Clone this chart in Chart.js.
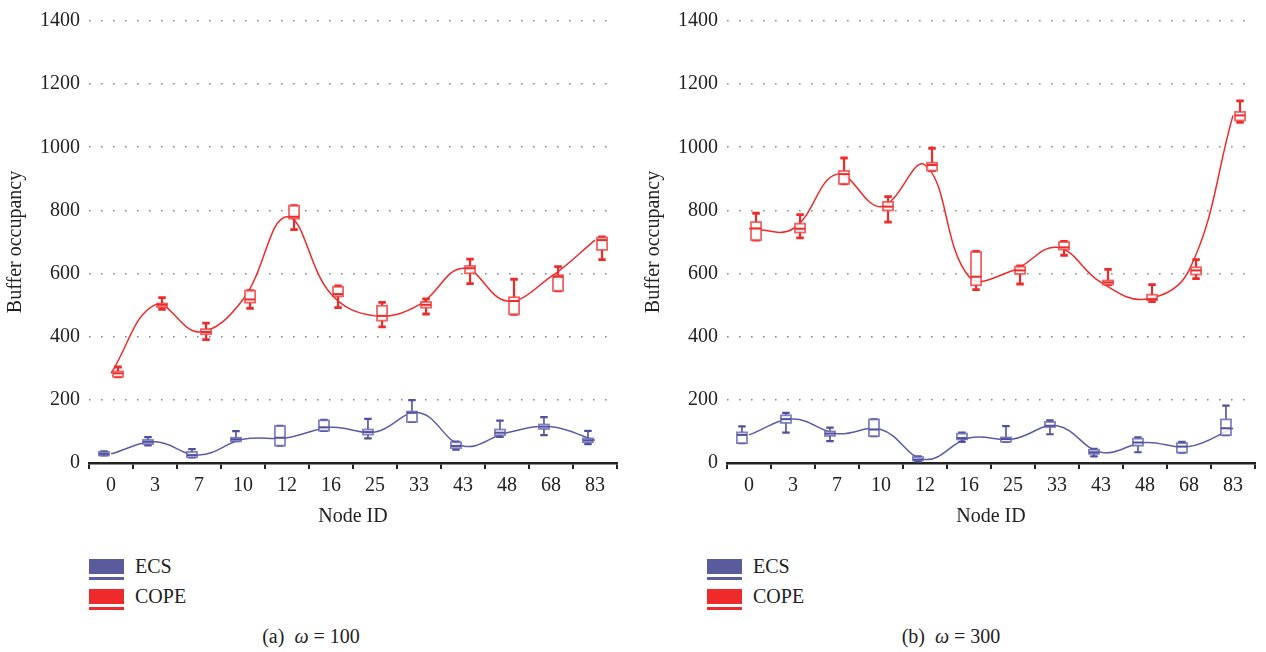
<!DOCTYPE html>
<html>
<head>
<meta charset="utf-8">
<script src="https://cdn.jsdelivr.net/npm/chart.js@4.4.0/dist/chart.umd.min.js"></script>
<style>
  body { margin: 0; background: #fff; width: 1266px; height: 652px; overflow: hidden; position: relative;
         font-family: "Liberation Serif", "DejaVu Serif", serif; color: #222; }
  canvas { position: absolute; top: 0; }
  .lbox { position: absolute; width: 35px; height: 15px; }
  .lline { position: absolute; width: 35px; height: 2.5px; }
  .ltext { position: absolute; height: 24px; line-height: 24px; font-size: 20px; }
  .cap { position: absolute; width: 240px; text-align: center; height: 24px; line-height: 24px; font-size: 20px; }
</style>
</head>
<body>
<canvas id="chartA" width="630" height="540" style="left:0px"></canvas>
<canvas id="chartB" width="630" height="540" style="left:638px"></canvas>

<div class="lbox" style="left:89px; top:559px; background:#5a5b9d"></div>
<div class="lline" style="left:89px; top:577px; background:#5b5ca8"></div>
<div class="ltext" style="left:135px; top:554px">ECS</div>
<div class="lbox" style="left:89px; top:589px; background:#ee2a2a"></div>
<div class="lline" style="left:89px; top:607px; background:#ee2a2a"></div>
<div class="ltext" style="left:135px; top:584px">COPE</div>
<div class="cap" style="left:191px; top:624px">(a)&nbsp;&nbsp;<i>ω</i> = 100</div>

<div class="lbox" style="left:707px; top:559px; background:#5a5b9d"></div>
<div class="lline" style="left:707px; top:577px; background:#5b5ca8"></div>
<div class="ltext" style="left:753px; top:554px">ECS</div>
<div class="lbox" style="left:707px; top:589px; background:#ee2a2a"></div>
<div class="lline" style="left:707px; top:607px; background:#ee2a2a"></div>
<div class="ltext" style="left:753px; top:584px">COPE</div>
<div class="cap" style="left:831px; top:624px">(b)&nbsp;&nbsp;<i>ω</i> = 300</div>

<script>
// node ids on the x axis
const nodeIds = ['0', '3', '7', '10', '12', '16', '25', '33', '43', '48', '68', '83'];
const yTicks = [0, 200, 400, 600, 800, 1000, 1200, 1400];

// (a) w = 100
const ecsA_lo  = [24, 56, 18, 69, 55, 102, 78, 130, 42, 83, 88, 60];
const ecsA_q1  = [24, 60, 18, 69, 55, 102, 90, 130, 47, 88, 108, 66];
const ecsA_med = [29, 67, 25, 75, 80, 113, 98, 159, 54, 96, 115, 72];
const ecsA_q3  = [35, 73, 35, 80, 117, 135, 106, 163, 66, 106, 122, 78];
const ecsA_hi  = [37, 82, 44, 101, 118, 137, 140, 199, 68, 134, 145, 102];

const copeA_lo  = [273, 487, 391, 490, 739, 492, 431, 472, 568, 471, 545, 644];
const copeA_q1  = [273, 494, 408, 508, 774, 528, 451, 492, 601, 471, 545, 675];
const copeA_med = [284, 501, 415, 518, 780, 535, 466, 501, 617, 513, 590, 706];
const copeA_q3  = [290, 505, 424, 546, 815, 558, 498, 510, 624, 525, 595, 714];
const copeA_hi  = [304, 524, 443, 546, 815, 561, 509, 520, 646, 582, 622, 716];

// (b) w = 300
const ecsB_lo  = [63, 96, 69, 85, 5, 67, 67, 91, 21, 34, 33, 88];
const ecsB_q1  = [63, 127, 86, 85, 8, 75, 67, 114, 29, 55, 33, 88];
const ecsB_med = [89, 139, 93, 106, 11, 79, 76, 118, 34, 65, 52, 110];
const ecsB_q3  = [97, 151, 100, 138, 19, 93, 81, 130, 42, 77, 63, 138];
const ecsB_hi  = [116, 159, 112, 138, 21, 96, 117, 135, 45, 81, 67, 182];

const copeB_lo  = [706, 713, 884, 763, 926, 549, 567, 658, 565, 511, 584, 1079];
const copeB_q1  = [706, 730, 884, 800, 926, 563, 599, 676, 565, 516, 597, 1085];
const copeB_med = [743, 742, 915, 812, 944, 590, 610, 683, 572, 519, 610, 1101];
const copeB_q3  = [763, 758, 925, 827, 951, 668, 622, 700, 578, 533, 620, 1112];
const copeB_hi  = [791, 787, 966, 844, 997, 670, 624, 702, 613, 565, 644, 1147];

const RED = '#ee2a2a';
const BLUE = '#5b5ca8';
const FONT = '"Liberation Serif", "DejaVu Serif", serif';

// box plots drawn with the chart's own scales
const boxPlugin = {
    id: 'boxes',
    afterDatasetsDraw(chart) {
        const ctx = chart.ctx;
        const xs = chart.scales.x, ys = chart.scales.y;
        const step = xs.getPixelForValue(1) - xs.getPixelForValue(0);
        chart.data.datasets.forEach(ds => {
            const s = ds.stats;
            const w = step * 0.23, cap = step * 0.17;
            ctx.save();
            for (let i = 0; i < ds.data.length; i++) {
                const cx = xs.getPixelForValue(i) + ds.side * step * 0.16;
                const yLo = ys.getPixelForValue(s.lo[i]);
                const yQ1 = ys.getPixelForValue(s.q1[i]);
                const yMed = ys.getPixelForValue(ds.data[i]);
                const yQ3 = ys.getPixelForValue(s.q3[i]);
                const yHi = ys.getPixelForValue(s.hi[i]);
                // whiskers
                ctx.strokeStyle = ds.whiskerColor;
                ctx.lineWidth = ds.whiskerWidth;
                ctx.beginPath();
                ctx.moveTo(cx, yQ3); ctx.lineTo(cx, yHi);
                ctx.moveTo(cx, yQ1); ctx.lineTo(cx, yLo);
                ctx.stroke();
                ctx.lineWidth = ds.whiskerWidth + 0.6;
                ctx.beginPath();
                ctx.moveTo(cx - cap / 2, yHi); ctx.lineTo(cx + cap / 2, yHi);
                ctx.moveTo(cx - cap / 2, yLo); ctx.lineTo(cx + cap / 2, yLo);
                ctx.stroke();
                // box
                ctx.fillStyle = 'rgba(255,255,255,0.85)';
                ctx.fillRect(cx - w / 2, yQ3, w, yQ1 - yQ3);
                ctx.strokeStyle = ds.boxColor;
                ctx.lineWidth = 1.8;
                ctx.strokeRect(cx - w / 2, yQ3, w, yQ1 - yQ3);
                // median
                ctx.strokeStyle = ds.whiskerColor;
                ctx.lineWidth = 2;
                ctx.beginPath();
                ctx.moveTo(cx - w / 2, yMed); ctx.lineTo(cx + w / 2, yMed);
                ctx.stroke();
            }
            ctx.restore();
        });
    }
};

function makeChart(id, ecs, cope) {
    const ctx = document.getElementById(id).getContext('2d');
    return new Chart(ctx, {
        type: 'line',
        data: {
            labels: nodeIds,
            datasets: [{
                label: 'ECS',
                data: ecs.med,
                stats: ecs,
                side: -1,
                borderColor: BLUE,
                borderWidth: 1.5,
                whiskerColor: '#50519a',
                whiskerWidth: 1.6,
                boxColor: 'rgba(100,100,180,0.8)',
                pointRadius: 0,
                tension: 0.4,
                fill: false
            }, {
                label: 'COPE',
                data: cope.med,
                stats: cope,
                side: 1,
                borderColor: RED,
                borderWidth: 1.5,
                whiskerColor: RED,
                whiskerWidth: 2.2,
                boxColor: 'rgba(240,60,60,0.8)',
                pointRadius: 0,
                tension: 0.4,
                fill: false
            }]
        },
        options: {
            responsive: false,
            animation: false,
            layout: {
                padding: { left: 0, right: 13, top: 13, bottom: 10 }
            },
            plugins: {
                legend: { display: false },
                tooltip: { enabled: false }
            },
            scales: {
                x: {
                    type: 'category',
                    offset: true,
                    grid: {
                        display: true,
                        drawOnChartArea: false,
                        drawTicks: true,
                        tickLength: 6,
                        offset: true,
                        color: '#222',
                        lineWidth: 2
                    },
                    border: { display: true, color: '#222', width: 2.5 },
                    ticks: {
                        color: '#222',
                        padding: 5,
                        maxRotation: 0,
                        autoSkip: false,
                        font: { family: FONT, size: 20 }
                    },
                    title: {
                        display: true,
                        text: 'Node ID',
                        color: '#222',
                        padding: { top: 0, bottom: 1 },
                        font: { family: FONT, size: 20 }
                    },
                    afterFit: (scale) => { scale.height = 67; }
                },
                y: {
                    min: 0,
                    max: 1400,
                    afterBuildTicks: (scale) => { scale.ticks = yTicks.map(v => ({ value: v })); },
                    grid: {
                        color: '#8a8a8a',
                        lineWidth: 1.6,
                        drawTicks: false
                    },
                    border: { display: false, dash: [1.6, 10.4] },
                    ticks: {
                        color: '#222',
                        padding: 9,
                        font: { family: FONT, size: 20 },
                        callback: (value) => String(value)
                    },
                    title: {
                        display: true,
                        text: 'Buffer occupancy',
                        color: '#222',
                        padding: { top: 4, bottom: 0 },
                        font: { family: FONT, size: 20 }
                    },
                    afterFit: (scale) => { scale.width = 89; }
                }
            }
        },
        plugins: [boxPlugin]
    });
}

makeChart('chartA',
    { lo: ecsA_lo, q1: ecsA_q1, med: ecsA_med, q3: ecsA_q3, hi: ecsA_hi },
    { lo: copeA_lo, q1: copeA_q1, med: copeA_med, q3: copeA_q3, hi: copeA_hi });
makeChart('chartB',
    { lo: ecsB_lo, q1: ecsB_q1, med: ecsB_med, q3: ecsB_q3, hi: ecsB_hi },
    { lo: copeB_lo, q1: copeB_q1, med: copeB_med, q3: copeB_q3, hi: copeB_hi });
</script>
</body>
</html>
